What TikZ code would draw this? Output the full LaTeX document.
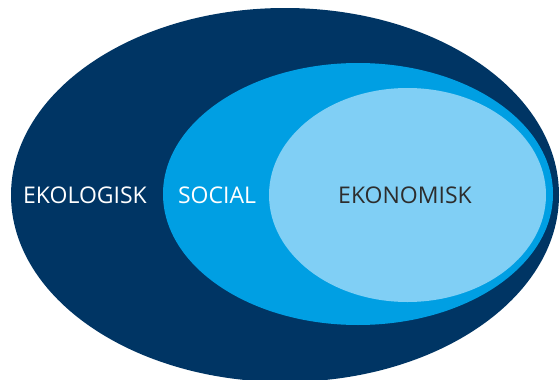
\documentclass[tikz,border=0pt]{standalone}
\usepackage{fontspec}
\setmainfont{Open Sans}
\usetikzlibrary{shapes.geometric}
\definecolor{ekonavy}{RGB}{0,53,100}
\definecolor{socialblue}{RGB}{0,159,227}
\definecolor{ekolight}{RGB}{128,207,245}
\definecolor{ekotext}{RGB}{45,45,45}

\begin{document}
\begin{tikzpicture}[x=1pt,y=-1pt]
  \tikzset{zonestyle/.style={ellipse, inner sep=0pt, anchor=center},
           labelstyle/.style={font=\fontsize{23}{27}\selectfont, inner sep=0pt, anchor=center}}
  \useasboundingbox (0,0) rectangle (560,380);
  % Nested zones
  \node (ekologiskzone) [zonestyle, fill=ekonavy, minimum width=548pt, minimum height=374pt] at (285,195) {};
  \node (socialzone) [zonestyle, fill=socialblue, minimum width=390pt, minimum height=262pt] at (358,194) {};
  \node (ekonomiskzone) [zonestyle, fill=ekolight, minimum width=277pt, minimum height=214pt] at (407.5,195) {};
  % Labels
  \node (ekologisk) [labelstyle, text=white] at (85,195) {EKOLOGISK};
  \node (social) [labelstyle, text=white] at (217,195) {SOCIAL};
  \node (ekonomisk) [labelstyle, text=ekotext] at (405,195) {EKONOMISK};
\end{tikzpicture}
\end{document}
